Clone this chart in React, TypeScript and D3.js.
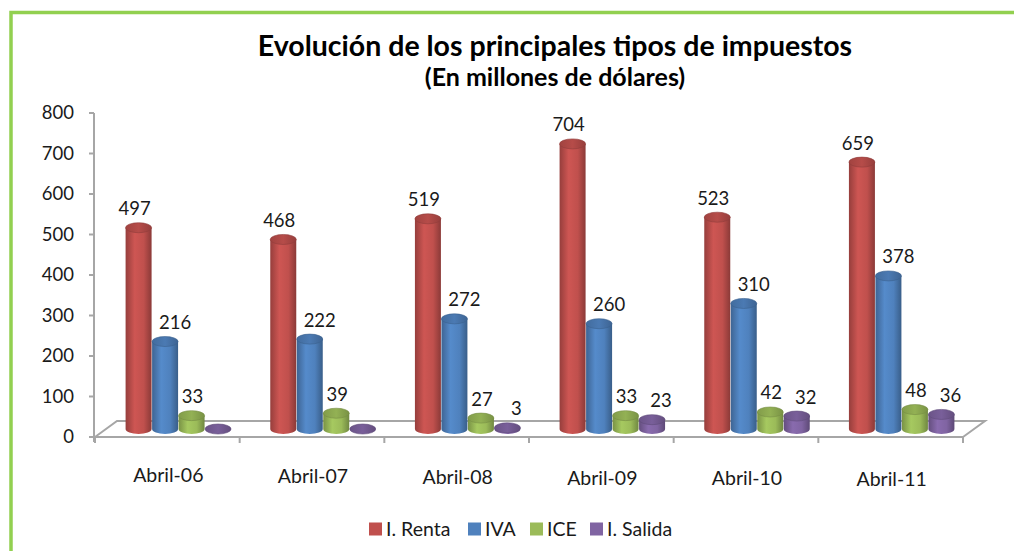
import React, { useEffect, useRef } from 'react';
import * as d3 from 'd3';

const categories = ['Abril-06', 'Abril-07', 'Abril-08', 'Abril-09', 'Abril-10', 'Abril-11'];
const seriesNames = ['I. Renta', 'IVA', 'ICE', 'I. Salida'];
const renta = [497, 468, 519, 704, 523, 659];
const iva = [216, 222, 272, 260, 310, 378];
const ice = [33, 39, 27, 33, 42, 48];
const salida = [0, 0, 3, 23, 32, 36];
const yTicks = [0, 100, 200, 300, 400, 500, 600, 700, 800];

const colors = ['#c0504d', '#4f81bd', '#9bbb59', '#8064a2'];
// nudges of the data labels, per series, as Excel places them
const labelDx = [-4, 10, 1, 9];

const W = 1014;
const H = 551;
const FONT = 'Lato, "Open Sans", sans-serif';

const App = () => {
    const svgRef = useRef<SVGSVGElement | null>(null);

    useEffect(() => {
        if (!svgRef.current) return;
        const svg = d3.select(svgRef.current);
        svg.selectAll('*').remove();

        const values = [renta, iva, ice, salida];

        const front = { left: 95, right: 963, y: 437 };
        const depth = { dx: 22, dy: -16 };
        const mid = { dx: depth.dx / 2, dy: depth.dy / 2 };

        const x0 = d3.scaleBand<string>().domain(categories).range([front.left, front.right]);
        const x1 = d3.scaleBand<string>().domain(seriesNames)
            .range([0, x0.bandwidth()]).paddingInner(0).paddingOuter(0.73);
        const y = d3.scaleLinear().domain([0, 800]).range([front.y, 113]);

        // gradients for the cylinders
        const defs = svg.append('defs');
        colors.forEach((c, i) => {
            const base = d3.color(c)!;
            const g = defs.append('linearGradient').attr('id', `cyl${i}`)
                .attr('x1', '0%').attr('x2', '100%').attr('y1', '0%').attr('y2', '0%');
            g.append('stop').attr('offset', '0%').attr('stop-color', base.darker(0.7).formatHex());
            g.append('stop').attr('offset', '35%').attr('stop-color', base.brighter(0.2).formatHex());
            g.append('stop').attr('offset', '70%').attr('stop-color', base.formatHex());
            g.append('stop').attr('offset', '100%').attr('stop-color', base.darker(0.9).formatHex());
            const t = defs.append('linearGradient').attr('id', `top${i}`)
                .attr('x1', '0%').attr('x2', '100%').attr('y1', '0%').attr('y2', '0%');
            t.append('stop').attr('offset', '0%').attr('stop-color', base.darker(0.5).formatHex());
            t.append('stop').attr('offset', '50%').attr('stop-color', base.darker(0.15).formatHex());
            t.append('stop').attr('offset', '100%').attr('stop-color', base.darker(0.7).formatHex());
        });

        svg.append('rect').attr('width', W).attr('height', H).attr('fill', '#fff');

        // green frame
        svg.append('path')
            .attr('d', `M${W},12.5 L11,12.5 L11,${H}`)
            .attr('fill', 'none').attr('stroke', '#92d050').attr('stroke-width', 3.5);

        // titles
        svg.append('text').attr('x', 555).attr('y', 56).attr('text-anchor', 'middle')
            .style('font-family', FONT).style('font-weight', 'bold').style('font-size', '28.5px')
            .attr('fill', '#000').text('Evolución de los principales tipos de impuestos');
        svg.append('text').attr('x', 555).attr('y', 86).attr('text-anchor', 'middle')
            .style('font-family', FONT).style('font-weight', 'bold').style('font-size', '25px')
            .attr('fill', '#000').text('(En millones de dólares)');

        const grey = '#a6a6a6';
        // floor
        const floor = svg.append('g').attr('stroke', grey).attr('stroke-width', 2).attr('fill', 'none');
        floor.append('path').attr('d',
            `M${front.left},${front.y} L${front.left + depth.dx},${front.y + depth.dy} ` +
            `L${front.right + depth.dx},${front.y + depth.dy} L${front.right},${front.y}`);
        floor.append('line').attr('x1', front.left).attr('x2', front.right)
            .attr('y1', front.y).attr('y2', front.y);

        // category ticks
        const catEdges = categories.map(c => x0(c)!).concat([front.right]);
        floor.selectAll('.ctick').data(catEdges).join('line')
            .attr('x1', d => d).attr('x2', d => d)
            .attr('y1', front.y).attr('y2', front.y + 6);

        // value axis
        const axisX = front.left - 1;
        floor.append('line').attr('x1', axisX).attr('x2', axisX).attr('y1', y(800)).attr('y2', front.y + 5);
        floor.selectAll('.ytick').data(yTicks).join('line')
            .attr('x1', axisX - 5).attr('x2', axisX).attr('y1', d => y(d)).attr('y2', d => y(d));

        svg.append('g').selectAll('text').data(yTicks).join('text')
            .attr('x', 74).attr('y', d => y(d)).attr('dy', '0.35em').attr('text-anchor', 'end')
            .style('font-family', FONT).style('font-size', '18.5px').attr('fill', '#1a1a1a')
            .text(d => d);

        // cylinders
        const bw = x1.bandwidth() - 0.5;
        const rx = bw / 2;
        const ry = 5;
        const bars = svg.append('g');
        categories.forEach((c, ci) => {
            seriesNames.forEach((s, si) => {
                const v = values[si][ci];
                const cx = x0(c)! + x1(s)! + x1.bandwidth() / 2 + mid.dx;
                const yb = y(0) + mid.dy;
                const yt = y(v) + mid.dy;
                const g = bars.append('g');
                if (yb - yt > 0.5) {
                    g.append('path')
                        .attr('d', `M${cx - rx},${yt} L${cx - rx},${yb} A${rx},${ry} 0 0 0 ${cx + rx},${yb} L${cx + rx},${yt} Z`)
                        .attr('fill', `url(#cyl${si})`);
                }
                g.append('ellipse').attr('cx', cx).attr('cy', yt).attr('rx', rx).attr('ry', ry)
                    .attr('fill', `url(#top${si})`)
                    .attr('stroke', d3.color(colors[si])!.darker(0.8).formatHex()).attr('stroke-width', 0.6);
                if (v > 0) {
                    svg.append('text').attr('x', cx + labelDx[si]).attr('y', yt - 19).attr('dy', '0.35em')
                        .attr('text-anchor', 'middle')
                        .style('font-family', FONT).style('font-size', '18.5px').attr('fill', '#1a1a1a')
                        .text(v);
                }
            });
        });

        // category labels
        svg.append('g').selectAll('text').data(categories).join('text')
            .attr('x', d => x0(d)! + x0.bandwidth() / 2 + 1)
            .attr('y', (d, i) => 475 + i * 0.9).attr('dy', '0.35em').attr('text-anchor', 'middle')
            .style('font-family', FONT).style('font-size', '19.5px').attr('fill', '#1a1a1a')
            .text(d => d);

        // legend
        const legend = svg.append('g').attr('transform', 'translate(369,529)');
        const legendX = [0, 99, 161, 221];
        seriesNames.forEach((s, i) => {
            const item = legend.append('g').attr('transform', `translate(${legendX[i]},0)`);
            item.append('rect').attr('x', 0).attr('y', -6.5).attr('width', 13).attr('height', 13)
                .attr('fill', colors[i]);
            item.append('text').attr('x', 17).attr('y', 0).attr('dy', '0.35em')
                .style('font-family', FONT).style('font-size', '19.5px').attr('fill', '#1a1a1a')
                .text(s);
        });
    }, []);

    return (
        <svg ref={svgRef} width={W} height={H}
            style={{ position: 'absolute', left: 0, top: 0, display: 'block' }} />
    );
};

export default App;
